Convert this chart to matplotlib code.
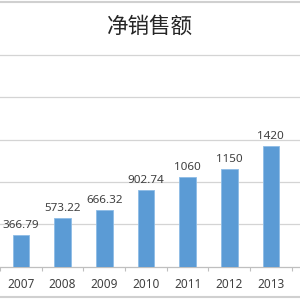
import matplotlib
matplotlib.use("Agg")
import matplotlib.pyplot as plt
from matplotlib.lines import Line2D

plt.rcParams['font.family'] = ['Noto Sans', 'Noto Sans CJK SC', 'DejaVu Sans']

years = ['2007', '2008', '2009', '2010', '2011', '2012', '2013']
sales = [366.79, 573.22, 666.32, 902.74, 1060, 1150, 1420]
labels = ['366.79', '573.22', '666.32', '902.74', '1060', '1150', '1420']
title = '净销售额'

fig = plt.figure(figsize=(3, 3), dpi=100)
ax = fig.add_axes([0, 33.5 / 300, 1, 1 - 33.5 / 300])

x = range(len(years))
ax.bar(x, sales, width=0.4, color='#5B9BD5', edgecolor='#8DBCE6', linewidth=0.6, zorder=3)
for i, v in enumerate(sales):
    ax.annotate(labels[i], (i, v), xytext=(0, 3), textcoords='offset points',
                ha='center', va='bottom', fontsize=8.4, color='#404040')

ax.set_xlim(-0.44, 6.70)
ax.set_ylim(0, 3150)
ax.set_yticks([500, 1000, 1500, 2000, 2500])
ax.set_yticklabels([])
ax.tick_params(axis='y', length=0)
ax.grid(axis='y', color='#D4D4D4', linewidth=0.9, zorder=0)

ax.set_xticks([i - 0.5 for i in range(8)], minor=False)
ax.set_xticklabels([])
ax.set_xticks(list(x), minor=True)
ax.set_xticklabels(years, minor=True)
ax.tick_params(axis='x', which='major', length=3, color='#BFBFBF', width=0.8)
ax.tick_params(axis='x', which='minor', length=0, pad=8.5, labelsize=8.5, labelcolor='#404040')

for s in ['top', 'left', 'right']:
    ax.spines[s].set_visible(False)
ax.spines['bottom'].set_color('#BFBFBF')
ax.spines['bottom'].set_linewidth(0.9)
ax.set_facecolor('white')

fig.text(0.5, 1 - 27 / 300, title, ha='center', va='center', fontsize=15.5,
         color='#262626', family=['Noto Sans CJK SC', 'DejaVu Sans'])

fig.add_artist(Line2D([0, 1], [1 - 2 / 300, 1 - 2 / 300], color='#D0D0D0', linewidth=1.5))
fig.add_artist(Line2D([0, 1], [3 / 300, 3 / 300], color='#D0D0D0', linewidth=1.5))

fig.savefig('out.png', dpi=100, facecolor='white')
